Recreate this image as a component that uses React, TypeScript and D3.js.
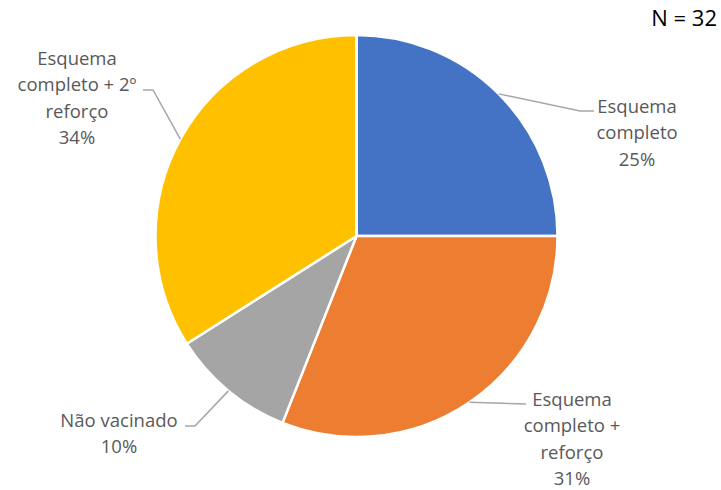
import React from "react";
import * as d3 from "d3";

const categories = [
  "Esquema completo",
  "Esquema completo + reforço",
  "Não vacinado",
  "Esquema completo + 2º reforço",
];
const values = [25, 31, 10, 34];
const labelLines = [
  ["Esquema", "completo", "25%"],
  ["Esquema", "completo +", "reforço", "31%"],
  ["Não vacinado", "10%"],
  ["Esquema", "completo + 2º", "reforço", "34%"],
];
const colors = ["#4472C4", "#ED7D31", "#A5A5A5", "#FFC000"];
const title = "N = 32";

// layout for labels (x center, first baseline, leader elbow/end points)
const labelLayout = [
  { x: 637, y: 113, pts: [[580, 111], [594, 111]] },
  { x: 572, y: 406, pts: [[526, 404]] },
  { x: 119, y: 427, pts: [[195, 426], [185, 426]] },
  { x: 77, y: 65, pts: [[153, 90], [143, 90]] },
];

const W = 721;
const H = 490;
const cx = 356.5;
const cy = 236;
const R = 201;
const lineH = 26.4;
const font = "'Open Sans', 'DejaVu Sans', sans-serif";

export default function App() {
  const pie = d3
    .pie<number>()
    .sort(null)
    .value((d) => d)
    .startAngle(0)
    .endAngle(2 * Math.PI);
  const arcs = pie(values);
  const arc = d3.arc<d3.PieArcDatum<number>>().innerRadius(0).outerRadius(R);
  const line = d3.line();

  return (
    <svg
      width={W}
      height={H}
      style={{ position: "absolute", left: 0, top: 0, background: "#fff" }}
    >
      <g transform={`translate(${cx},${cy})`}>
        {arcs.map((a, i) => (
          <path
            key={categories[i]}
            d={arc(a) || ""}
            fill={colors[i]}
            stroke="#fff"
            strokeWidth={2.5}
            strokeLinejoin="round"
          />
        ))}
      </g>
      {arcs.map((a, i) => {
        const mid = (a.startAngle + a.endAngle) / 2;
        const sx = cx + Math.sin(mid) * R;
        const sy = cy - Math.cos(mid) * R;
        const L = labelLayout[i];
        const pts: [number, number][] = [[sx, sy], ...(L.pts as [number, number][])];
        return (
          <path
            key={"l" + i}
            d={line(pts) || ""}
            fill="none"
            stroke="#A6A6A6"
            strokeWidth={1.5}
          />
        );
      })}
      {labelLines.map((lines, i) => (
        <text
          key={"t" + i}
          textAnchor="middle"
          fontFamily={font}
          fontSize={18.5}
          fill="#595959"
        >
          {lines.map((s, j) => (
            <tspan key={j} x={labelLayout[i].x} y={labelLayout[i].y + j * lineH}>
              {s}
            </tspan>
          ))}
        </text>
      ))}
      <text x={717} y={26} textAnchor="end" fontFamily={font} fontSize={22} fill="#000">
        {title}
      </text>
    </svg>
  );
}
